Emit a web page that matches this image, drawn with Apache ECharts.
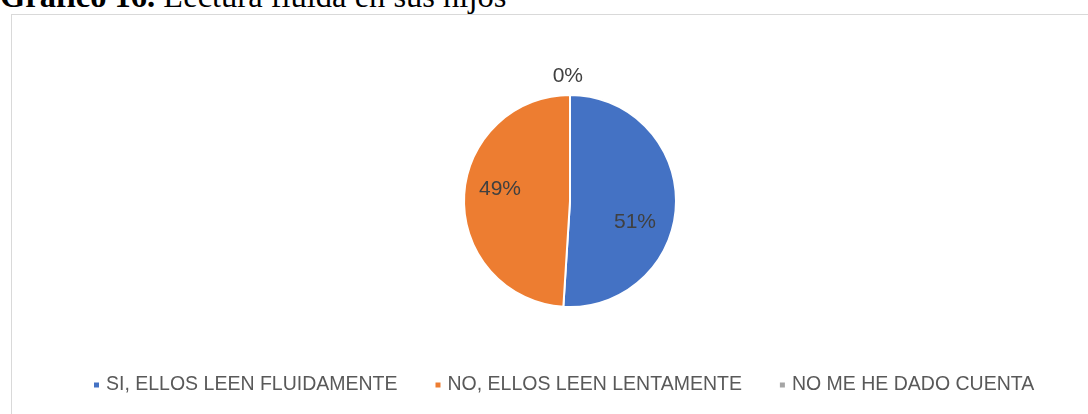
<!DOCTYPE html>
<html>
<head>
<meta charset="utf-8">
<script src="https://cdn.jsdelivr.net/npm/echarts@6/dist/echarts.min.js"></script>
<style>
html,body{margin:0;padding:0;background:#fff;overflow:hidden;}
#title{position:absolute;left:0;top:-20px;line-height:32px;font-family:"Liberation Serif","Times New Roman",serif;font-size:32.5px;color:#000;white-space:nowrap;}
#box{position:absolute;left:11px;top:14px;width:1090px;height:420px;border:1px solid #d9d9d9;box-sizing:border-box;}
#chart{position:absolute;left:0;top:0;width:1088px;height:414px;}
</style>
</head>
<body>
<div id="title"><b>Gráfico 16.</b> Lectura fluida en sus hijos</div>
<div id="box"></div>
<div id="chart"></div>
<script>
const categories = ["SI, ELLOS LEEN FLUIDAMENTE", "NO, ELLOS LEEN LENTAMENTE", "NO ME HE DADO CUENTA"];
const values = [51, 49, 0];
const colors = ["#4472C4", "#ED7D31", "#A5A5A5"];

const chart = echarts.init(document.getElementById('chart'), null, {renderer: 'canvas'});
const labelOffsets = [[9, 19], [-14, -10], [13, 1]];
const data = categories.map((c, i) => {
  const item = {name: c, value: values[i], itemStyle: {color: colors[i]}};
  if (i === 2) {
    item.label = {position: 'outside', distanceToLabelLine: 0, offset: labelOffsets[i]};
    item.labelLine = {show: false, length: 20, length2: 0};
  } else {
    item.label = {position: 'inside', offset: labelOffsets[i]};
  }
  return item;
});
chart.setOption({
  animation: false,
  legend: {
    top: 370,
    left: 87,
    itemWidth: 7,
    itemHeight: 7,
    itemGap: 36,
    icon: 'rect',
    textStyle: {fontFamily: 'Liberation Sans', fontSize: 19.5, color: '#595959', padding: [0, 0, 0, 1]},
    data: categories
  },
  series: [{
    type: 'pie',
    center: [570, 201],
    radius: [0, 106],
    startAngle: 90,
    clockwise: true,
    avoidLabelOverlap: false,
    itemStyle: {borderColor: '#fff', borderWidth: 2},
    label: {
      show: true,
      formatter: p => p.value + '%',
      fontFamily: 'Liberation Sans',
      fontSize: 21,
      color: '#404040'
    },
    emphasis: {disabled: true},
    data: data
  }]
});
</script>
</body>
</html>
